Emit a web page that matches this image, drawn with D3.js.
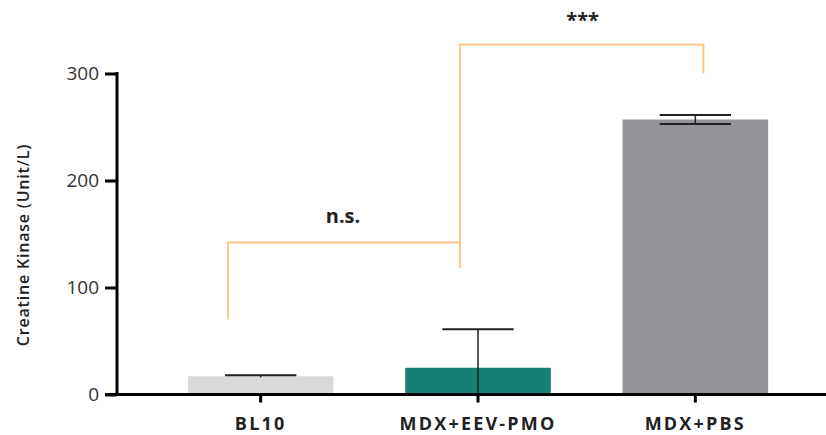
<!DOCTYPE html>
<html>
<head>
<meta charset="utf-8">
<script src="https://cdn.jsdelivr.net/npm/d3@7"></script>
<style>
  body { margin: 0; background: #fff; }
  svg { display: block; font-family: "Open Sans", "DejaVu Sans", sans-serif; }
</style>
</head>
<body>
<svg id="chart" width="826" height="435"></svg>
<script>
// groups and values (Creatine Kinase, Unit/L)
var groups = ["BL10", "MDX+EEV-PMO", "MDX+PBS"];
var means = [17, 25, 257];
var errs = [1, 36, 4.3];
var colors = ["#d9d9da", "#187f73", "#949498"];
var yTicks = [0, 100, 200, 300];

// significance brackets: left group, right group, bracket level, left drop, right drop, label
var brFrom = ["BL10", "MDX+EEV-PMO"];
var brTo = ["MDX+EEV-PMO", "MDX+PBS"];
var brLevel = [142, 327];
var brLeftEnd = [70, 118];
var brRightEnd = [118, 300];
var brLabel = ["n.s.", "***"];

var svg = d3.select("#chart");
var x0 = 117, x1 = 826, yBase = 394.5, yTop = 73.5;

var x = d3.scaleBand().domain(groups).range([152, 804]).padding(0);
var y = d3.scaleLinear().domain([0, 300]).range([yBase, yTop]);
var barW = x.bandwidth() * 0.67;
var cx = function(g) { return x(g) + x.bandwidth() / 2; };

// bars
svg.append("g").selectAll("rect")
  .data(groups)
  .enter().append("rect")
  .attr("x", function(d) { return cx(d) - barW / 2; })
  .attr("y", function(d, i) { return y(means[i]); })
  .attr("width", barW)
  .attr("height", function(d, i) { return y(0) - y(means[i]); })
  .attr("fill", function(d, i) { return colors[i]; });

// error bars
var capW = barW * 0.49;
var eb = svg.append("g").attr("stroke", "#222").attr("stroke-width", 2);
groups.forEach(function(g, i) {
  var hi = means[i] + errs[i], lo = Math.max(0, means[i] - errs[i]);
  eb.append("line").attr("x1", cx(g)).attr("x2", cx(g)).attr("y1", y(hi)).attr("y2", y(lo)).attr("stroke-width", 1.5);
  eb.append("line").attr("x1", cx(g) - capW / 2).attr("x2", cx(g) + capW / 2).attr("y1", y(hi)).attr("y2", y(hi));
  if (means[i] - errs[i] > 0 && errs[i] > 2) {
    eb.append("line").attr("x1", cx(g) - capW / 2).attr("x2", cx(g) + capW / 2).attr("y1", y(lo)).attr("y2", y(lo));
  }
});

// y axis
var yAxis = d3.axisLeft(y).tickValues(yTicks).tickSize(12).tickPadding(6).tickFormat(d3.format("d"));
var ya = svg.append("g").attr("transform", "translate(" + x0 + ",0)").call(yAxis);
ya.select(".domain").attr("d", "M0," + (yTop - 1.5) + "V" + (yBase + 1.5)).attr("stroke", "#000").attr("stroke-width", 3);
ya.selectAll(".tick line").attr("stroke", "#000").attr("stroke-width", 3);
ya.selectAll(".tick text").attr("font-size", 19).attr("fill", "#333").attr("font-family", "'Open Sans', sans-serif");

// x axis
var xAxis = d3.axisBottom(x).tickSize(8).tickPadding(15);
var xa = svg.append("g").attr("transform", "translate(0," + yBase + ")").call(xAxis);
xa.select(".domain").attr("d", "M" + (x0 - 12) + ",0H" + x1).attr("stroke", "#000").attr("stroke-width", 3);
xa.selectAll(".tick line").attr("stroke", "#000").attr("stroke-width", 3);
xa.selectAll(".tick text").attr("font-size", 18).attr("font-weight", "bold").attr("fill", "#222")
  .attr("font-family", "'Open Sans', sans-serif")
  .attr("letter-spacing", "2.2px");

// y title
svg.append("text")
  .attr("transform", "translate(29,245) rotate(-90)")
  .attr("text-anchor", "middle")
  .attr("font-size", 16)
  .attr("font-weight", 600)
  .attr("fill", "#222")
  .attr("letter-spacing", "0.8px")
  .text("Creatine Kinase (Unit/L)");

// significance brackets
var brOff = { "BL10": -0.15, "MDX+EEV-PMO": -0.083, "MDX+PBS": 0.037 };
var bx = function(g) { return cx(g) + brOff[g] * x.bandwidth(); };
var br = svg.append("g").attr("fill", "none").attr("stroke", "#fdc986").attr("stroke-width", 2);
brFrom.forEach(function(f, i) {
  var xl = bx(f), xr = bx(brTo[i]);
  br.append("path").attr("d",
    "M" + xl + "," + y(brLeftEnd[i]) + "V" + y(brLevel[i]) + "H" + xr + "V" + y(brRightEnd[i]));
  svg.append("text")
    .attr("x", i === 0 ? (xl + xr) / 2 - 1 : (xl + xr) / 2 + 1)
    .attr("y", y(brLevel[i]) - (i === 0 ? 20 : 18))
    .attr("text-anchor", "middle")
    .attr("font-size", 20)
    .attr("font-weight", "bold")
    .attr("fill", "#222")
    .text(brLabel[i]);
});
</script>
</body>
</html>
